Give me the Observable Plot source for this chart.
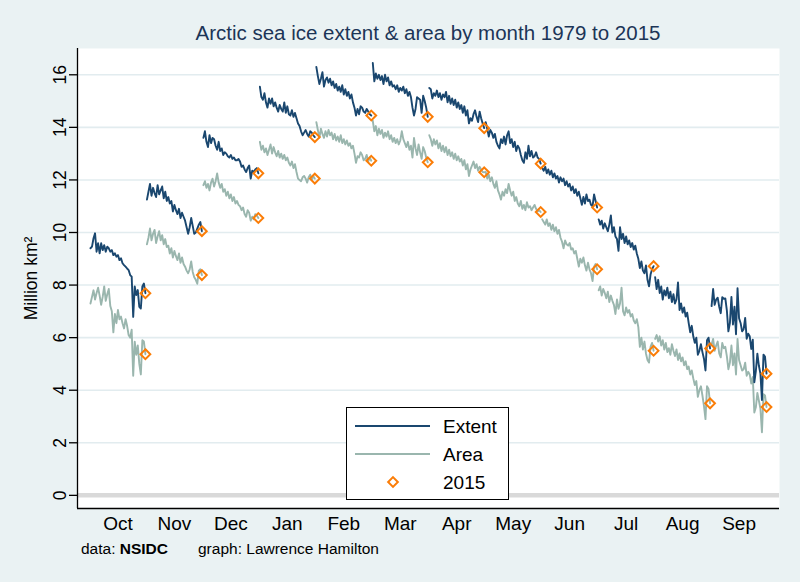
<!DOCTYPE html>
<html><head><meta charset="utf-8">
<script src="https://cdn.jsdelivr.net/npm/d3@7"></script>
<script src="https://cdn.jsdelivr.net/npm/@observablehq/plot@0.6"></script>
<style>
html,body{margin:0;padding:0;background:#eaf2f3;}
#wrap{position:relative;width:800px;height:582px;font-family:"Liberation Sans",Arial,sans-serif;background:#eaf2f3;overflow:hidden;}
#title{height:48px;position:relative;}
#title span{position:absolute;left:77px;width:702px;top:23px;text-align:center;font-size:20.5px;line-height:1;color:#1c3557;white-space:nowrap;}
#chart svg{display:block;}
#caption{position:relative;height:42px;font-size:15.5px;line-height:1;color:#000;}
#caption .a{position:absolute;left:81px;top:1px;}
#caption .b{position:absolute;left:198px;top:1px;}
#legend{position:absolute;left:346px;top:407px;width:161px;height:91px;background:#fff;border:1px solid #000;}
#legend svg{display:block;}
</style>
</head><body>
<div id="wrap">
  <div id="title"><span>Arctic sea ice extent &amp; area by month 1979 to 2015</span></div>
  <div id="chart"></div>
  <div id="caption"><span class="a">data: <b>NSIDC</b></span><span class="b">graph: Lawrence Hamilton</span></div>
  <div id="legend"></div>
</div>
<script>
// ---- data (million km², 1979..2015 for each month) ----
const months = ["Oct","Nov","Dec","Jan","Feb","Mar","Apr","May","Jun","Jul","Aug","Sep"];
const years = d3.range(1979, 2016);
const yTicks = [0, 2, 4, 6, 8, 10, 12, 14, 16];

const extOct = [9.40,9.46,9.78,9.97,9.27,9.59,9.21,9.59,9.33,9.52,9.27,9.46,9.40,9.27,9.33,9.14,9.21,9.08,9.14,8.95,9.02,8.83,8.76,8.70,8.63,8.57,8.38,8.32,6.79,7.95,7.62,7.81,7.17,7.11,7.95,8.06,7.69];
const areaOct = [7.30,7.55,7.80,7.45,7.70,7.90,7.60,7.25,7.55,7.95,7.40,7.65,7.85,7.20,7.00,6.20,6.90,6.55,7.05,6.70,6.80,6.55,6.35,6.70,6.45,6.10,6.00,6.30,4.55,5.85,5.35,5.70,5.00,4.60,5.90,5.85,5.37];
const extNov = [11.25,11.55,11.85,11.40,11.70,11.50,11.35,11.80,11.45,11.60,11.75,11.30,11.55,11.20,11.35,11.10,11.20,10.80,11.05,10.85,10.70,10.90,10.55,10.75,10.60,10.45,10.20,9.95,10.20,10.55,10.25,9.95,10.00,10.15,10.30,10.40,10.05];
const areaNov = [9.55,9.80,10.15,9.70,9.95,10.10,9.60,9.85,10.05,9.70,9.90,9.55,9.75,9.45,9.50,9.20,9.40,9.05,9.30,9.10,8.95,9.20,8.85,9.05,8.80,8.70,8.55,8.45,8.60,8.90,8.50,8.30,8.20,8.05,8.55,8.60,8.38];
const extDec = [13.60,13.85,13.45,13.25,13.70,13.40,13.60,13.55,13.30,13.15,13.45,13.10,13.20,12.95,13.05,13.00,12.90,12.85,12.95,12.80,12.85,12.75,12.75,12.80,12.70,12.50,12.55,12.40,12.30,12.45,12.55,12.05,12.35,12.30,12.40,12.45,12.25];
const areaDec = [11.80,11.95,11.70,11.85,11.60,11.90,12.05,11.75,11.95,12.25,11.90,11.70,11.85,11.55,11.65,11.40,11.55,11.30,11.45,11.20,11.35,11.10,11.20,11.05,11.00,10.85,10.95,10.70,10.60,10.85,10.75,10.45,10.60,10.50,10.70,10.65,10.55];
const extJan = [15.55,15.15,15.05,15.30,14.95,14.75,15.10,14.90,15.10,14.80,14.95,14.75,14.60,14.85,14.70,14.60,14.95,14.55,14.80,14.50,14.45,14.65,14.40,14.55,14.35,14.15,14.05,13.85,13.70,13.80,13.90,13.75,13.65,13.85,13.80,13.70,13.63];
const areaJan = [13.45,13.15,13.30,13.05,13.20,12.95,13.15,13.35,13.00,13.25,13.05,12.90,13.10,12.85,13.00,12.80,12.95,12.75,12.85,12.65,12.55,12.70,12.45,12.60,12.30,12.05,12.00,11.95,12.10,12.15,12.05,11.90,12.10,12.20,12.00,12.15,12.05];
const extFeb = [16.30,15.95,15.65,15.85,16.10,15.55,15.80,15.90,15.70,15.85,15.60,15.75,15.50,15.65,15.40,15.55,15.35,15.60,15.25,15.45,15.20,15.35,15.10,15.25,14.95,14.75,14.45,14.70,14.50,14.80,14.75,14.60,14.55,14.70,14.60,14.50,14.45];
const areaFeb = [14.20,13.90,13.60,13.95,13.75,13.60,13.85,13.65,13.90,13.70,13.80,13.55,13.75,13.50,13.65,13.45,13.70,13.40,13.55,13.35,13.50,13.30,13.40,13.20,13.30,13.00,12.65,12.90,12.85,13.05,12.95,12.75,12.80,12.95,12.70,12.85,12.73];
const extMar = [16.45,15.75,16.05,15.85,16.00,15.80,15.95,15.65,16.00,15.75,15.90,15.60,15.75,15.55,15.60,15.45,15.60,15.35,15.50,15.40,15.55,15.30,15.45,15.20,15.35,15.15,14.75,14.45,14.70,15.15,15.10,15.05,14.55,15.20,15.00,14.75,14.40];
const areaMar = [14.25,13.85,14.05,13.70,13.95,13.75,13.90,13.60,13.80,13.65,13.85,13.55,13.70,13.45,13.60,13.40,13.55,13.35,13.50,13.85,13.55,13.40,13.25,13.45,13.15,13.30,12.85,13.60,13.20,12.95,13.35,13.05,12.80,13.25,13.10,12.85,12.67];
const extApr = [15.50,15.45,15.10,15.30,15.20,15.40,15.15,15.30,15.05,15.25,15.15,15.35,14.95,15.20,14.90,15.10,14.85,15.05,14.75,14.95,14.70,14.85,14.55,14.80,14.45,14.65,14.15,14.35,14.25,14.50,14.65,14.40,14.20,14.60,14.35,14.15,13.97];
const areaApr = [13.70,13.55,13.30,13.55,13.35,13.50,13.20,13.40,13.10,13.30,13.05,13.25,12.95,13.15,12.90,13.05,12.80,13.00,12.75,12.90,12.70,12.80,12.55,12.75,12.40,12.60,12.15,12.40,12.55,12.70,12.45,12.60,12.35,12.50,12.40,12.30,12.29];
const extMay = [14.20,13.95,13.65,13.90,13.80,13.60,13.75,13.45,13.30,13.20,13.55,13.40,13.65,13.35,13.70,13.85,13.40,13.55,13.25,13.45,13.10,13.30,13.20,12.95,12.75,12.65,13.05,12.80,13.30,12.90,13.10,12.85,12.90,13.05,12.85,12.80,12.62];
const areaMay = [12.30,12.05,12.20,11.95,12.10,11.85,11.70,11.95,11.60,11.45,11.25,11.55,11.40,11.65,11.50,11.85,11.60,11.40,11.55,11.20,11.35,11.10,11.00,11.20,10.90,11.05,10.85,11.15,10.95,11.00,10.85,10.95,11.05,10.90,10.80,10.85,10.78];
const extJun = [12.45,12.35,12.50,12.25,12.40,12.20,12.35,12.10,12.25,12.05,12.15,11.90,12.10,11.95,12.05,11.80,11.95,11.75,11.85,11.60,11.75,11.50,11.65,11.40,11.55,11.30,11.05,11.35,11.10,11.45,11.20,11.25,11.05,11.00,11.45,11.20,10.95];
const areaJun = [10.50,10.40,10.30,10.50,10.25,10.35,10.10,10.30,10.05,10.20,9.95,10.10,9.80,9.65,9.40,9.70,9.55,9.50,9.60,9.35,9.40,9.20,9.30,9.00,8.70,9.00,8.85,9.05,8.75,8.55,8.85,8.60,8.45,8.15,8.70,8.80,8.60];
const extJul = [10.50,10.30,10.45,10.15,10.35,10.20,10.05,10.30,10.65,10.00,10.20,9.85,9.75,9.30,10.20,9.75,9.95,9.60,9.85,9.55,9.70,9.45,9.60,9.35,9.50,9.20,9.00,8.65,8.90,8.55,8.45,8.75,8.20,7.95,8.40,8.60,8.72];
const areaJul = [7.80,7.95,7.60,7.85,7.70,7.50,7.75,7.35,7.60,7.40,7.25,6.90,7.45,7.10,7.30,7.90,7.00,6.85,7.15,6.95,7.05,6.80,6.90,6.65,6.55,6.70,6.40,5.65,6.00,5.55,5.85,5.40,5.15,5.05,5.65,5.80,5.50];
const extAug = [8.30,7.85,8.20,7.70,7.95,7.45,7.80,7.60,7.90,7.50,7.75,7.35,7.65,7.30,7.45,8.10,7.05,7.30,6.95,7.15,6.80,6.95,6.55,6.20,6.45,6.05,5.80,6.00,5.35,5.50,5.75,5.45,5.20,4.75,5.90,6.00,5.59];
const areaAug = [5.95,6.10,5.85,6.05,5.70,5.90,5.55,5.80,5.45,5.60,5.35,5.75,5.50,5.30,5.55,5.15,5.40,5.10,5.25,4.95,5.10,4.80,4.90,4.60,4.75,4.45,4.20,4.35,3.75,4.00,4.15,3.80,3.40,2.90,4.15,4.05,3.50];
const extSep = [7.20,7.85,7.25,7.45,7.52,7.17,6.93,7.54,7.48,7.49,7.04,6.24,6.55,7.55,6.50,7.18,6.13,7.88,6.74,6.56,6.24,6.32,6.75,5.96,6.15,6.05,5.57,5.92,4.30,4.73,5.39,4.93,4.63,3.63,5.35,5.28,4.63];
const areaSep = [5.75,5.95,5.50,5.70,5.85,5.40,5.25,5.80,5.60,5.65,5.30,4.80,5.05,5.70,4.95,5.40,4.60,5.95,5.15,4.95,4.75,4.80,5.05,4.55,4.70,4.60,4.25,4.50,3.15,3.35,3.90,3.60,3.30,2.40,3.85,3.80,3.36];

const extentByMonth = [extOct, extNov, extDec, extJan, extFeb, extMar, extApr, extMay, extJun, extJul, extAug, extSep];
const areaByMonth = [areaOct, areaNov, areaDec, areaJan, areaFeb, areaMar, areaApr, areaMay, areaJun, areaJul, areaAug, areaSep];

// ---- build table: sequence index = month slot * nYears + year offset ----
const nYears = years.length;
function build(series, name) {
  const out = [];
  series.forEach((vals, mi) => vals.forEach((v, k) => out.push({series: name, month: months[mi], year: years[k], i: mi * nYears + k, v})));
  return out;
}
const extentRows = build(extentByMonth, "Extent");
const areaRows = build(areaByMonth, "Area");
const last = [...extentRows, ...areaRows].filter(d => d.year === 2015);
const monthTicks = months.map((m, mi) => mi * nYears + (nYears - 1) / 2);

const colExtent = "#1a476f", colArea = "#9ab6ae", colDiamond = "#fb7d07";
const xDomain = [-8.5, 451.5], yDomain = [-0.5, 17];

const chart = Plot.plot({
  width: 800, height: 492,
  marginLeft: 77, marginRight: 21, marginTop: 0, marginBottom: 32,
  style: {fontFamily: "Liberation Sans, Arial, sans-serif", fontSize: "17px", color: "#000", background: "transparent", overflow: "visible"},
  x: {domain: xDomain, axis: null},
  y: {domain: yDomain, axis: null},
  marks: [
    Plot.frame({fill: "#ffffff", stroke: null}),
    Plot.ruleY(yTicks.filter(d => d > 0), {stroke: "#e2ecef", strokeWidth: 1.6}),
    Plot.ruleY([0], {stroke: "#d9d9d9", strokeWidth: 4.5}),
    Plot.ruleX([xDomain[0]], {stroke: "#000", strokeWidth: 1.3}),
    Plot.ruleY([yDomain[0]], {stroke: "#000", strokeWidth: 1.3}),
    Plot.axisY({ticks: yTicks, tickSize: 8, tickRotate: -90, tickPadding: 4, fontSize: 17.5, label: null, strokeWidth: 1.3}),
    Plot.text(["Million km²"], {text: d => d, frameAnchor: "left", dx: -46, rotate: -90, textAnchor: "middle", lineAnchor: "middle", fontSize: 17.5, fill: "#000"}),
    Plot.axisX({ticks: monthTicks, tickSize: 0, tickPadding: 8, fontSize: 19, label: null, tickFormat: d => months[Math.round((d - (nYears - 1) / 2) / nYears)]}),
    Plot.line(areaRows, {x: "i", y: "v", z: "month", stroke: colArea, strokeWidth: 1.9}),
    Plot.line(extentRows, {x: "i", y: "v", z: "month", stroke: colExtent, strokeWidth: 1.9}),
    Plot.dot(last, {x: "i", y: "v", symbol: "diamond2", r: 4.4, stroke: colDiamond, strokeWidth: 2, fill: "none"})
  ]
});
document.getElementById("chart").appendChild(chart);

// ---- legend ----
const legendItems = [
  {label: "Extent", kind: "line", color: colExtent},
  {label: "Area", kind: "line", color: colArea},
  {label: "2015", kind: "diamond", color: colDiamond}
];
const lg = d3.select("#legend").append("svg").attr("width", 161).attr("height", 91);
legendItems.forEach((it, j) => {
  const y = 18 + j * 28;
  if (it.kind === "line") {
    lg.append("line").attr("x1", 8).attr("x2", 83).attr("y1", y).attr("y2", y).attr("stroke", it.color).attr("stroke-width", 2);
  } else {
    lg.append("path").attr("d", d3.symbol(d3.symbolDiamond2, 60)()).attr("transform", `translate(46,${y})`).attr("fill", "none").attr("stroke", it.color).attr("stroke-width", 2);
  }
  lg.append("text").attr("x", 96).attr("y", y).attr("dy", "0.35em").attr("font-size", 19).attr("font-family", "Liberation Sans, Arial, sans-serif").attr("fill", "#000").text(it.label);
});
</script>
</body></html>
